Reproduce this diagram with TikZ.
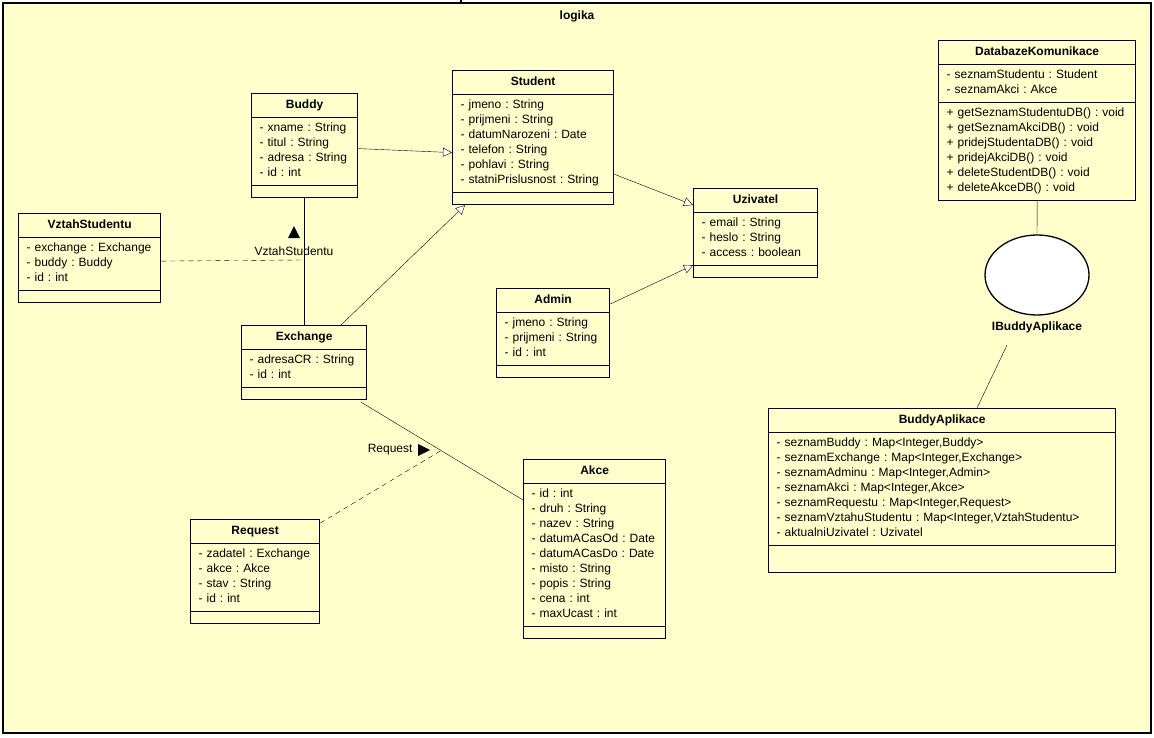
\documentclass[tikz,border=0pt]{standalone}
\usepackage{fontspec}
\setmainfont{Liberation Sans}
\usetikzlibrary{shapes.multipart,shapes.geometric,arrows.meta}
\definecolor{pkgfill}{HTML}{FFFFCC}

\tikzset{
  umlclass/.style={draw=black, line width=1.3pt, fill=pkgfill, rectangle split, rectangle split parts=3,
    rectangle split draw splits=false,
    anchor=north west, inner xsep=8pt, inner ysep=3.5pt,
    text width=#1-16pt, font=\fontsize{12}{15}\selectfont\frenchspacing},
  gen/.style={-{Triangle[open,length=9pt,width=9pt,fill=white]}, thin},
  assoc/.style={thin},
  dep/.style={thin, dashed, dash pattern=on 5pt off 4pt},
  lbl/.style={font=\fontsize{12}{14}\selectfont}
}
\newcommand{\ctitle}[1]{\makebox[\hsize][c]{\textbf{\strut #1}}}
\newcommand{\noop}[1][4pt]{\rule{0pt}{#1}}

\begin{document}
\begin{tikzpicture}[x=1pt,y=-1pt]
  \useasboundingbox (0,0) rectangle (1154,738);
  % package frame
  \draw[line width=1.3pt, fill=pkgfill] (3,3) rectangle (1151,733);
  \draw[line width=1.3pt] (461,0) -- (461,3);
  \node[font=\bfseries\fontsize{12}{14}\selectfont] (pkg) at (577,16) {logika};

  % classes
  \node[umlclass=161pt] (student) at (452,70) {\ctitle{Student}
    \nodepart{two}\strut- jmeno : String\\\strut- prijmeni : String\\\strut- datumNarozeni : Date\\\strut- telefon : String\\\strut- pohlavi : String\\\strut- statniPrislusnost : String
    \nodepart{three}\noop};
  \node[umlclass=106pt] (buddy) at (251,93) {\ctitle{Buddy}
    \nodepart{two}\strut- xname : String\\\strut- titul : String\\\strut- adresa : String\\\strut- id : int
    \nodepart{three}\noop};
  \node[umlclass=124pt] (uzivatel) at (693,188) {\ctitle{Uzivatel}
    \nodepart{two}\strut- email : String\\\strut- heslo : String\\\strut- access : boolean
    \nodepart{three}\noop};
  \node[umlclass=142pt] (vztah) at (18,213) {\ctitle{VztahStudentu}
    \nodepart{two}\strut- exchange : Exchange\\\strut- buddy : Buddy\\\strut- id : int
    \nodepart{three}\noop};
  \node[umlclass=113pt] (admin) at (496,288) {\ctitle{Admin}
    \nodepart{two}\strut- jmeno : String\\\strut- prijmeni : String\\\strut- id : int
    \nodepart{three}\noop};
  \node[umlclass=125pt] (exchange) at (241,325) {\ctitle{Exchange}
    \nodepart{two}\strut- adresaCR : String\\\strut- id : int
    \nodepart{three}\noop};
  \node[umlclass=142pt] (akce) at (523,459) {\ctitle{Akce}
    \nodepart{two}\strut- id : int\\\strut- druh : String\\\strut- nazev : String\\\strut- datumACasOd : Date\\\strut- datumACasDo : Date\\\strut- misto : String\\\strut- popis : String\\\strut- cena : int\\\strut- maxUcast : int
    \nodepart{three}\noop};
  \node[umlclass=129pt] (request) at (190,519) {\ctitle{Request}
    \nodepart{two}\strut- zadatel : Exchange\\\strut- akce : Akce\\\strut- stav : String\\\strut- id : int
    \nodepart{three}\noop};
  \node[umlclass=197pt] (db) at (938,40) {\ctitle{DatabazeKomunikace}
    \nodepart{two}\strut- seznamStudentu : Student\\\strut- seznamAkci : Akce
    \nodepart{three}\strut+ getSeznamStudentuDB() : void\\\strut+ getSeznamAkciDB() : void\\\strut+ pridejStudentaDB() : void\\\strut+ pridejAkciDB() : void\\\strut+ deleteStudentDB() : void\\\strut+ deleteAkceDB() : void};
  \node[umlclass=347pt] (app) at (768,408) {\ctitle{BuddyAplikace}
    \nodepart{two}\strut- seznamBuddy : Map<Integer,Buddy>\\\strut- seznamExchange : Map<Integer,Exchange>\\\strut- seznamAdminu : Map<Integer,Admin>\\\strut- seznamAkci : Map<Integer,Akce>\\\strut- seznamRequestu : Map<Integer,Request>\\\strut- seznamVztahuStudentu : Map<Integer,VztahStudentu>\\\strut- aktualniUzivatel : Uzivatel
    \nodepart{three}\noop[19pt]};

  % thin compartment lines
  \foreach \c in {student,buddy,uzivatel,vztah,admin,exchange,akce,request,db,app}{
    \draw[thin] (\c.text split west) -- (\c.text split east);
    \draw[thin] (\c.two split west) -- (\c.two split east);
  }

  % interface
  \node[draw=black, line width=1.3pt, fill=white, ellipse, minimum width=104pt, minimum height=80pt] (iface) at (1037,275) {};
  \node[font=\bfseries\fontsize{12}{14}\selectfont] (ifacelbl) at (1037,327) {IBuddyAplikace};

  % generalizations
  \draw[gen] ([yshift=-3pt]buddy.east) -- ([yshift=-7pt]buddy.east -| student.west);
  \draw[gen] ([yshift=31pt]student.south east) -- ([yshift=-17pt]uzivatel.north west);
  \draw[gen] ([yshift=-16pt]admin.north east) -- ([yshift=13pt]uzivatel.south west);
  \draw[gen] ([xshift=100pt]exchange.north west) -- ([xshift=13pt]student.south west);

  % associations
  \draw[assoc] ([xshift=63pt]exchange.north west) -- ([xshift=63pt]exchange.north west |- buddy.south);
  \coordinate (vzmid) at ([xshift=63pt,yshift=65pt]exchange.north west);
  \draw[dep] ([yshift=-3pt]vztah.east) -- (vzmid);
  \node[lbl] (vzlbl) at (294,251) {VztahStudentu};
  \fill ([yshift=5pt]vzlbl.north) ++(-6,0) -- ++(12,0) -- ++(-6,-12) -- cycle;
  \draw[assoc] ([xshift=120pt,yshift=-2pt]exchange.south west) -- ([yshift=-41pt]akce.north west);
  \coordinate (rqmid) at (442,450);
  \draw[dep] ([yshift=-4pt]request.north east) -- (rqmid);
  \node[lbl, anchor=east] (rqlbl) at (416,450) {Request};
  \fill (rqlbl.east) ++(2,-6) -- ++(0,12) -- ++(12,-6) -- cycle;
  \draw[assoc] (db.south) -- (iface.north);
  \draw[assoc] ([xshift=-30pt,yshift=-9pt]ifacelbl.south) -- ([xshift=209pt]app.north west);
\end{tikzpicture}
\end{document}
